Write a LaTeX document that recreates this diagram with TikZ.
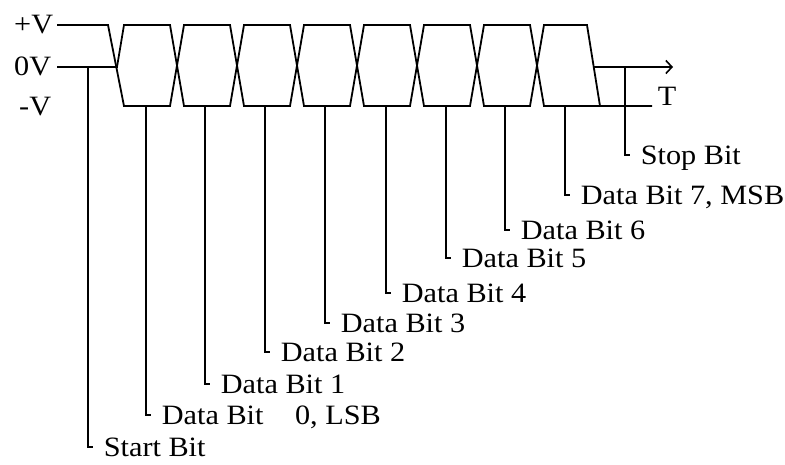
\documentclass[tikz,border=0pt]{standalone}
\usepackage{fontspec}
\setmainfont{Liberation Serif}[FakeStretch=1.08]
\usetikzlibrary{arrows.meta}
\begin{document}
\begin{tikzpicture}[x=1pt,y=-1pt, line width=1.8pt, line join=miter,
  txt/.style={inner sep=0pt, font=\fontsize{28}{30}\selectfont},
  lab/.style={txt, anchor=base west},
  lvl/.style={txt, anchor=base east},
  wire/.style={line width=1.8pt}]
\useasboundingbox (0,0) rectangle (785,464);

% level labels
\node[lvl] (pv) at (54,33) {+V};
\node[lvl] (zv) at (52,75) {0V};
\node[lvl] (nv) at (52,115) {-V};
\node[lab] (T) at (657,105) {T};

% waveform (two interleaved traces forming the X shapes)
\draw[wire] (57,25) -- (108,25) -- (124,106) -- (170,106) -- (184,25) -- (230,25)
  -- (244,106) -- (290,106) -- (304,25) -- (350,25) -- (364,106) -- (410,106)
  -- (424,25) -- (470,25) -- (484,106) -- (530,106) -- (544,25) -- (587,25) -- (600,106);
\draw[wire] (57,67) -- (117,67) -- (124,25) -- (170,25) -- (184,106) -- (230,106)
  -- (244,25) -- (290,25) -- (304,106) -- (350,106) -- (364,25) -- (410,25)
  -- (424,106) -- (470,106) -- (484,25) -- (530,25) -- (544,106) -- (652,106);
\coordinate (tstart) at (593,67);
\coordinate (tend) at (673,67);
\draw[wire, -{Straight Barb[length=6pt,width=13pt,line width=1.6pt]}] (tstart) -- (tend);

% leader lines and labels
\foreach \n/\x/\ytop/\yc/\t in {
  sb/88/67/447/{Start Bit},
  d0/146/106/415/{Data Bit\hspace{24pt} 0, LSB},
  d1/205/106/384/{Data Bit 1},
  d2/265/106/352/{Data Bit 2},
  d3/325/106/323/{Data Bit 3},
  d4/386/106/293/{Data Bit 4},
  d5/446/106/258/{Data Bit 5},
  d6/505/106/230/{Data Bit 6},
  d7/565/106/195/{Data Bit 7, MSB},
  st/625/67/155/{Stop Bit}}{
  \coordinate (\n top) at (\x,\ytop);
  \coordinate (\n corner) at (\x,\yc);
  \coordinate (\n tick) at (\x+5,\yc);
  \node[lab] (\n) at (\x+15,\yc+9) {\t};
  \draw[wire] (\n top) -- (\n corner) -- (\n tick);
}
\end{tikzpicture}
\end{document}
